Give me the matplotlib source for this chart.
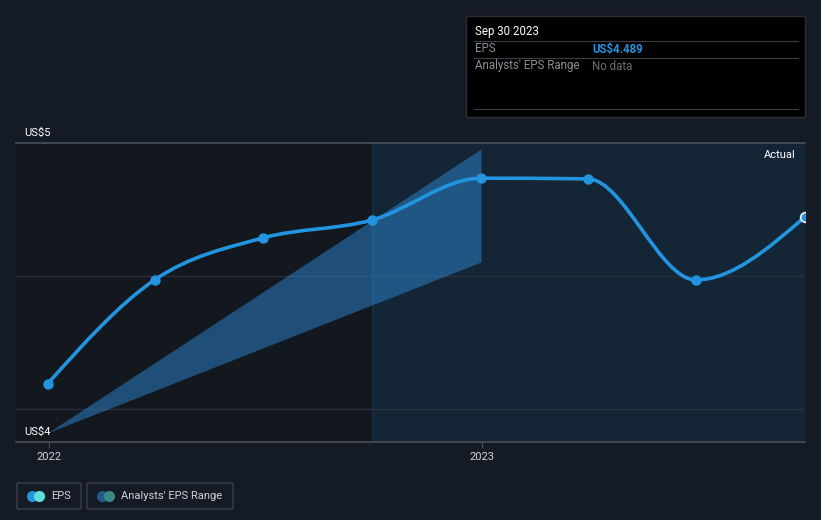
import matplotlib
matplotlib.use("Agg")
import matplotlib.pyplot as plt
import matplotlib.dates as mdates
import matplotlib.transforms as mtrans
from matplotlib.path import Path
from matplotlib.patches import PathPatch, Rectangle, FancyBboxPatch
import numpy as np
import datetime as dt

plt.rcParams['font.family'] = ['Roboto', 'DejaVu Sans']

# ---- data ----
eps_dates = ["2021-12-31", "2022-03-31", "2022-06-30", "2022-09-30",
             "2022-12-31", "2023-03-31", "2023-06-30", "2023-09-30"]
eps_values = [4.238, 4.394, 4.457, 4.484, 4.547, 4.546, 4.394, 4.489]

range_dates = ["2021-12-31", "2022-12-31"]
range_low = [4.164, 4.421]
range_high = [4.164, 4.591]

actual_start = "2022-09-30"
x_ticks = ["2022-01-01", "2023-01-01"]
x_tick_labels = ["2022", "2023"]
y_label_values = [4.6, 4.15]
y_labels = ["US$5", "US$4"]
gridlines = [4.2, 4.4]

tooltip_date = "Sep 30 2023"
tooltip_eps = "US$4.489"

# ---- style ----
BG = "#151b25"
PLOT_BG = "#13171e"
ACTUAL_BG = "#142536"
LINE = "#2394df"
TEXT = "#d0d2d5"

W, H = 821, 520
fig = plt.figure(figsize=(W / 100, H / 100), dpi=100, facecolor=BG)
ax = fig.add_axes([16 / W, (H - 442) / H, 789 / W, 299 / H])
ax.set_facecolor(PLOT_BG)

d = lambda s: mdates.date2num(dt.datetime.strptime(s, "%Y-%m-%d"))
xs = np.array([d(s) for s in eps_dates])
ys = np.array(eps_values)

x0 = d("2022-01-01") - 27.8
x1 = d("2023-09-30")
ax.set_xlim(x0, x1)
ax.set_ylim(4.15, 4.6)

# actual region
xa = d(actual_start)
ax.axvspan(xa, x1, color=ACTUAL_BG, zorder=0, lw=0)
ax.axvline(xa, color="#1a3249", lw=0.8, zorder=1)

for g in gridlines:
    ax.axhline(g, color="#2a3039", lw=1, zorder=1)
ax.axhline(4.6, color="#4a5058", lw=1.2, zorder=2, clip_on=False)

# analyst range
rx = [d(s) for s in range_dates]
ax.fill_between(rx, range_low, range_high, color="#2a7fc4", alpha=0.55, lw=0, zorder=2)

# monotone cubic curve (d3 monotoneX style)
def monotone_path(x, y):
    n = len(x)
    h = np.diff(x)
    s = np.diff(y) / h
    t = np.zeros(n)
    for i in range(1, n - 1):
        if s[i - 1] * s[i] <= 0:
            t[i] = 0
        else:
            p = (s[i - 1] * h[i] + s[i] * h[i - 1]) / (h[i - 1] + h[i])
            t[i] = (np.sign(s[i - 1]) + np.sign(s[i])) * min(abs(s[i - 1]), abs(s[i]), 0.5 * abs(p))
    t[0] = (3 * s[0] - t[1]) / 2 if n > 2 else s[0]
    t[-1] = (3 * s[-1] - t[-2]) / 2 if n > 2 else s[-1]
    verts = [(x[0], y[0])]
    codes = [Path.MOVETO]
    for i in range(n - 1):
        dx = h[i] / 3
        verts += [(x[i] + dx, y[i] + dx * t[i]), (x[i + 1] - dx, y[i + 1] - dx * t[i + 1]), (x[i + 1], y[i + 1])]
        codes += [Path.CURVE4] * 3
    return Path(verts, codes)

ax.add_patch(PathPatch(monotone_path(xs, ys), fill=False, edgecolor=LINE, lw=2.6, zorder=4,
                       capstyle="round"))
ax.plot(xs[:-1], ys[:-1], "o", ms=6.5, color=LINE, zorder=5)
ax.plot(xs[-1:], ys[-1:], "o", ms=7, color=LINE, mec="#e8f2fb", mew=1.2, zorder=5)

# axes styling
for sp in ax.spines.values():
    sp.set_visible(False)
ax.axhline(4.15, color="#4a5058", lw=1.2, zorder=3, clip_on=False)
ax.set_yticks([])
ax.set_xticks([d(s) for s in x_ticks])
ax.set_xticklabels(x_tick_labels, color=TEXT, fontsize=8)
ax.tick_params(axis="x", length=4, color="#4a5058", pad=3)

ax.text(0.988, 0.975, "Actual", transform=ax.transAxes, ha="right", va="top", color="#ffffff", fontsize=8)

# y labels (slightly above their lines)
lab_tr = ax.get_yaxis_transform() + mtrans.ScaledTranslation(0, 5 / 100, fig.dpi_scale_trans)
for v, lab in zip(y_label_values, y_labels):
    ax.text(8 / 789, v, lab, transform=lab_tr, ha="left", va="bottom",
            color="#ffffff", fontsize=8, clip_on=False)

# tooltip
tx, ty, tw, th = 466, 16, 339, 101
fig.patches.append(Rectangle((tx / W, 1 - (ty + th) / H), tw / W, th / H, transform=fig.transFigure,
                             facecolor="#000000", edgecolor="#2a2f36", lw=1, zorder=10))
fig.text(475 / W, 1 - 31 / H, tooltip_date, color="#ffffff", fontsize=8.3, va="center", zorder=11)
for yy in [41, 58, 109]:
    fig.add_artist(plt.Line2D([474 / W, 798 / W], [1 - yy / H, 1 - yy / H], color="#3a3f46", lw=0.8, zorder=11))
fig.text(475 / W, 1 - 49 / H, "EPS", color="#8a8f96", fontsize=8.3, va="center", zorder=11)
fig.text(592 / W, 1 - 49 / H, tooltip_eps, color="#2394df", fontsize=8.3, va="center", weight="bold", zorder=11)
fig.text(475 / W, 1 - 66 / H, "Analysts' EPS Range", color="#8a8f96", fontsize=8.3, va="center", zorder=11)
fig.text(592 / W, 1 - 66 / H, "No data", color="#6a6f76", fontsize=8.3, va="center", zorder=11)

# legend
def legend_box(x, w, label, c1, c2):
    fig.patches.append(FancyBboxPatch((x / W, 1 - 509 / H), w / W, 26 / H, transform=fig.transFigure,
                                      boxstyle="round,pad=0,rounding_size=0.002",
                                      facecolor="none", edgecolor="#3a3f46", lw=1))
    fig.add_artist(plt.Line2D([(x + 15) / W], [1 - 496 / H], marker="o", ms=7, color=c1, lw=0))
    fig.add_artist(plt.Line2D([(x + 22) / W], [1 - 496 / H], marker="o", ms=7, color=c2, lw=0))
    fig.text((x + 34) / W, 1 - 496 / H, label, color=TEXT, fontsize=8, va="center")

legend_box(17, 64, "EPS", "#2394df", "#5ee0d8")
legend_box(87, 146, "Analysts' EPS Range", "#1f5a8a", "#3a8a86")

fig.savefig("out.png", dpi=100, facecolor=BG)
